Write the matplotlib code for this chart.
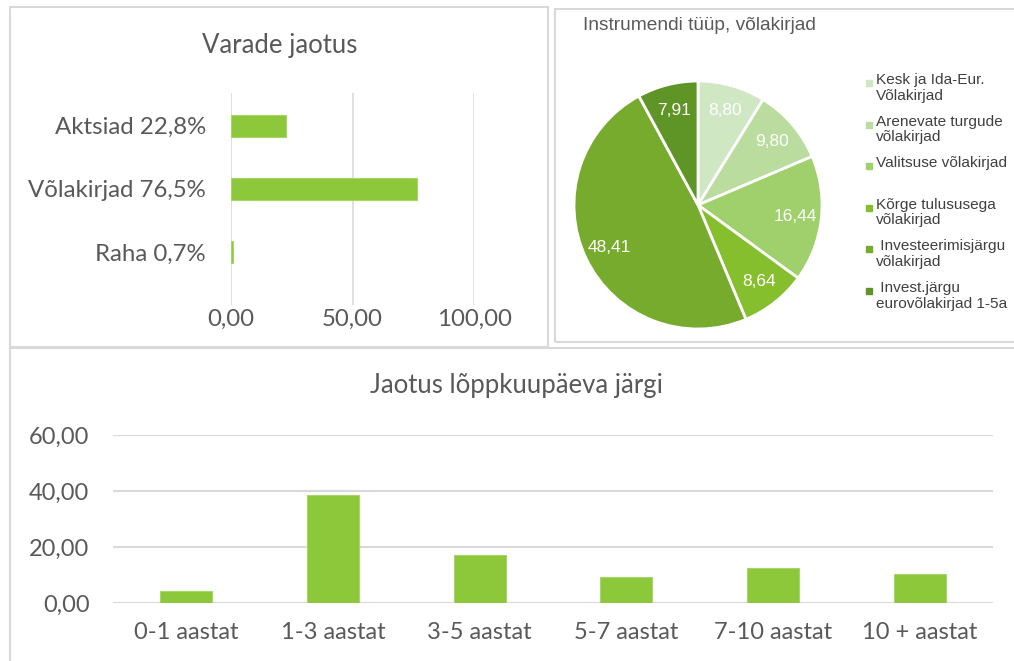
import matplotlib
matplotlib.use("Agg")
import matplotlib.pyplot as plt
from matplotlib.patches import Rectangle

# --- data -----------------------------------------------------------------
asset_labels = ["Aktsiad 22,8%", "Võlakirjad 76,5%", "Raha 0,7%"]
asset_values = [22.8, 76.5, 0.7]
asset_ticks = [0, 50, 100]

pie_labels = ["Kesk ja Ida-Eur.\nVõlakirjad", "Arenevate turgude\nvõlakirjad",
              "Valitsuse võlakirjad", "Kõrge tulususega\nvõlakirjad",
              " Investeerimisjärgu\nvõlakirjad", " Invest.järgu\neurovõlakirjad 1-5a"]
pie_values = [8.80, 9.80, 16.44, 8.64, 48.41, 7.91]
pie_colors = ["#d0e7c3", "#badd9f", "#9fd06c", "#86bf2e", "#77ab2d", "#5f9426"]

maturity_labels = ["0-1 aastat", "1-3 aastat", "3-5 aastat", "5-7 aastat",
                   "7-10 aastat", "10 + aastat"]
maturity_values = [4.3, 38.7, 17.2, 9.2, 12.5, 10.2]
maturity_ticks = [0, 20, 40, 60]

BAR = "#8cc83a"
TXT = "#595959"
GRID = "#d9d9d9"
FONT = "Lato"

W, H = 1014, 661
fig = plt.figure(figsize=(W / 100, H / 100), dpi=100)


def box(x0, y0, x1, y1):
    """Panel border given in pixel coords (top-left origin)."""
    fig.patches.append(Rectangle((x0 / W, 1 - y1 / H), (x1 - x0) / W, (y1 - y0) / H,
                                 transform=fig.transFigure, fill=False,
                                 edgecolor=GRID, lw=1.5))


def axes_px(x0, y0, x1, y1):
    return fig.add_axes([x0 / W, 1 - y1 / H, (x1 - x0) / W, (y1 - y0) / H])


def fmt(v):
    return f"{v:.2f}".replace(".", ",")


box(10, 7, 548, 347)
box(555, 9, 1020, 342)
box(10, 348, 1020, 670)

# --- Varade jaotus ----------------------------------------------------------
ax1 = axes_px(231, 93, 474, 305)
y = range(len(asset_values))
ax1.barh(y, asset_values, height=0.35, color=BAR, edgecolor="#a6d66a", lw=0.8)
ax1.set_xlim(0, 100)
ax1.set_ylim(2.84, -0.52)
ax1.set_yticks(list(y))
ax1.set_yticklabels(asset_labels, fontsize=17.3, color=TXT, family=FONT)
ax1.set_xticks(asset_ticks)
ax1.set_xticklabels([fmt(t) for t in asset_ticks], fontsize=17.3, color=TXT, family=FONT)
ax1.tick_params(length=0)
ax1.tick_params(axis="x", pad=3)
ax1.tick_params(axis="y", pad=18)
ax1.grid(axis="x", color=GRID, lw=1.2)
ax1.set_axisbelow(True)
for s in ax1.spines.values():
    s.set_visible(False)
fig.text(280 / W, 1 - 45 / H, "Varade jaotus", ha="center", va="center",
         fontsize=18.5, color=TXT, family=FONT)

# --- Instrumendi tüüp -------------------------------------------------------
ax2 = axes_px(574, 81, 822, 329)
total = sum(pie_values)
ax2.pie(pie_values, colors=pie_colors, startangle=90, counterclock=False,
        autopct=lambda p: fmt(p * total / 100), pctdistance=0.79,
        wedgeprops=dict(edgecolor="white", linewidth=2),
        textprops=dict(color="white", fontsize=12.5, family="Liberation Sans"))
ax2.set_xlim(-1, 1)
ax2.set_ylim(-1, 1)
fig.text(583 / W, 1 - 25 / H, "Instrumendi tüüp, võlakirjad", ha="left", va="center",
         fontsize=13.8, color=TXT, family="Liberation Sans")
for i, (lab, col) in enumerate(zip(pie_labels, pie_colors)):
    ty = 82 + i * 41.6
    fig.patches.append(Rectangle((866 / W, 1 - (ty + 4) / H), 6 / W, 6 / H,
                                 transform=fig.transFigure, color=col))
    fig.text(876 / W, 1 - (ty - 9) / H, lab, ha="left", va="top", fontsize=11.1,
             color="#404040", family="Liberation Sans", linespacing=1.15)

# --- Jaotus lõppkuupäeva järgi ----------------------------------------------
ax3 = axes_px(113, 435, 993, 603)
x = range(len(maturity_values))
ax3.bar(x, maturity_values, width=0.355, color=BAR, edgecolor="#a6d66a", lw=0.8)
ax3.set_xlim(-0.5, len(maturity_values) - 0.5)
ax3.set_ylim(0, 60)
ax3.set_yticks(maturity_ticks)
ax3.set_yticklabels([fmt(t) for t in maturity_ticks], fontsize=17, color=TXT, family=FONT)
ax3.set_xticks(list(x))
ax3.set_xticklabels(maturity_labels, fontsize=17, color=TXT, family=FONT)
ax3.tick_params(length=0)
ax3.tick_params(axis="x", pad=14)
ax3.tick_params(axis="y", pad=17)
ax3.grid(axis="y", color=GRID, lw=1.5)
ax3.set_axisbelow(True)
for s in ax3.spines.values():
    s.set_visible(False)
fig.text(516 / W, 1 - 385 / H, "Jaotus lõppkuupäeva järgi", ha="center", va="center",
         fontsize=18.5, color=TXT, family=FONT)

fig.savefig("out.png", dpi=100)
